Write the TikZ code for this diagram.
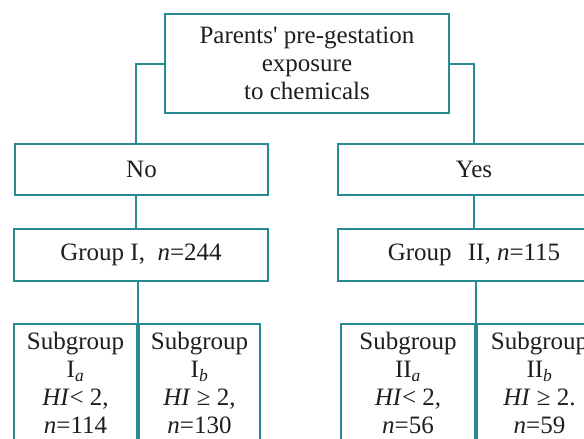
\documentclass[tikz,border=0pt]{standalone}
\usepackage{fontspec}
\setmainfont{Liberation Serif}
\usetikzlibrary{positioning}
\definecolor{boxline}{RGB}{40,138,146}
\definecolor{ink}{RGB}{30,30,30}
\begin{document}
\begin{tikzpicture}[x=1pt, y=-1pt, node distance=0pt,
    font=\fontsize{25}{28}\selectfont, text=ink,
    box/.style={draw=boxline, line width=2pt, fill=white, align=center, inner sep=0pt},
    subbox/.style={box, anchor=north, inner ysep=8pt, text depth=22pt},
    link/.style={draw=boxline, line width=2pt}]
            \useasboundingbox (0,0) rectangle (584,439);
            \clip (0,0) rectangle (584,439);
            \node(top) [box, minimum width=284pt, minimum height=99pt] at (307,63.5)
                {Parents\textquotesingle{} pre-gestation\\exposure\\to chemicals};
            \node(no) [box, minimum width=253pt, minimum height=51pt] at (141.5,169.5) {No};
            \node(yes) [box, minimum width=272pt, minimum height=51pt] at (474,169.5) {Yes};
            \node(gI) [box, minimum width=254pt, minimum height=52pt] at (141,255)
                {Group I,\hspace{0.5em}\textit{n}=244};
            \node(gII) [box, minimum width=272pt, minimum height=52pt] at (474,255)
                {Group\hspace{0.4em} II, \textit{n}=115};
            \node(Ia) [subbox, minimum width=123pt] at (75.5,323)
                {Subgroup\\I\textsubscript{\textit{a}}\\\textit{HI}< 2,\\\textit{n}=114};
            \node(Ib) [subbox, minimum width=121pt, right=of Ia.north east, anchor=north west]
                {Subgroup\\I\textsubscript{\textit{b}}\\\textit{HI} ≥ 2,\\\textit{n}=130};
            \node(IIa) [subbox, minimum width=134pt] at (408,323)
                {Subgroup\\II\textsubscript{\textit{a}}\\\textit{HI}< 2,\\\textit{n}=56};
            \node(IIb) [subbox, minimum width=125pt, right=of IIa.north east, anchor=north west]
                {Subgroup\\II\textsubscript{\textit{b}}\\\textit{HI} ≥ 2.\\\textit{n}=59};
            \draw[link](top.west) -| ([xshift=-5.5pt]no.north);
            \draw[link](top.east) -| (yes.north);
            \draw[link]([xshift=-5.5pt]no.south) -- ([xshift=-5.5pt]no.south |- gI.north);
            \draw[link](yes.south) -- (gII.north);
            \draw[link](gI.south -| Ia.north east) -- (Ia.north east);
            \draw[link](gII.south -| IIa.north east) -- (IIa.north east);
\end{tikzpicture}
\end{document}
